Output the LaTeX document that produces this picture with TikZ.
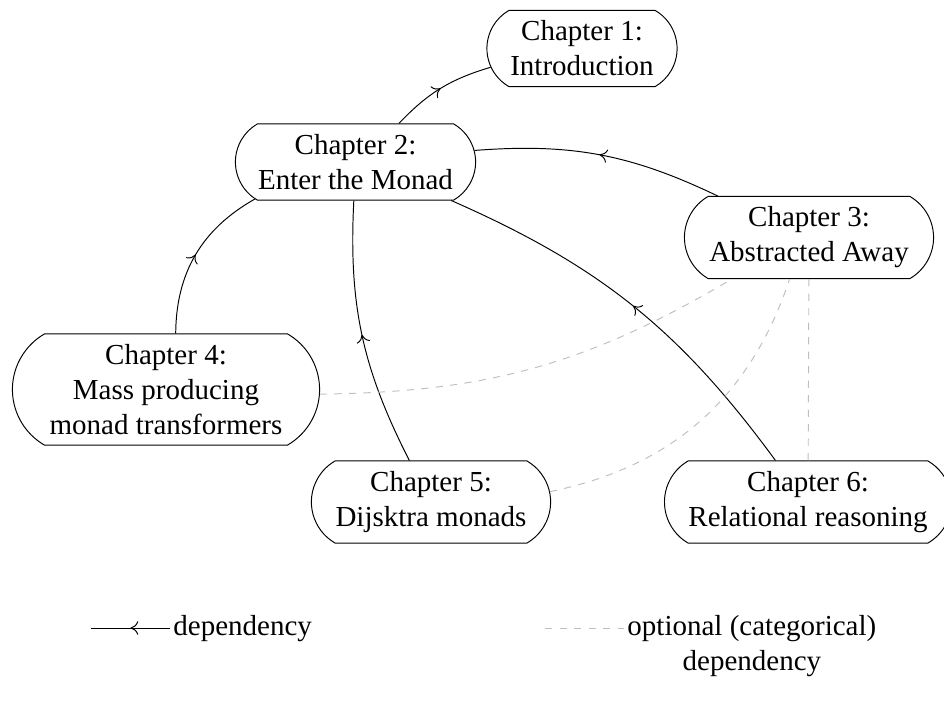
\documentclass[tikz,border=0pt]{standalone}
\usepackage{fontspec}
\setmainfont{Liberation Serif}
\usetikzlibrary{shapes.misc,decorations.markings,calc,arrows.meta}
\begin{document}
\begin{tikzpicture}[x=0.4138pt,y=-0.4138pt,
  font=\fontsize{12}{14.5}\selectfont,
  chap/.style={draw, rounded rectangle, rounded rectangle arc length=120,
    align=center, inner xsep=1pt, inner ysep=4.3pt},
  dep/.style={draw, postaction={decorate},
    decoration={markings, mark=at position 0.5 with {\arrow{To[length=3.2pt,width=5.6pt]}}}},
  opt/.style={draw=black!25, dashed},
  legtext/.style={inner sep=0pt}]
\useasboundingbox (0,0) rectangle (944,704);

\node[chap, minimum width=80.7pt] (ch1) at (582,48.5) {Chapter 1:\\Introduction};
\node[chap, minimum width=101.4pt] (ch2) at (355.5,162) {Chapter 2:\\Enter the Monad};
\node[chap, minimum width=105.1pt] (ch3) at (809,237.5) {Chapter 3:\\Abstracted Away};
\node[chap, minimum width=129.1pt] (ch4) at (166,389.5) {Chapter 4:\\Mass producing\\monad transformers};
\node[chap, minimum width=101pt] (ch5) at (431,502) {Chapter 5:\\Dijsktra monads};
\node[chap, minimum width=120.8pt] (ch6) at (808,502) {Chapter 6:\\Relational reasoning};

\draw[dep] (ch2) to[bend left=15] (ch1);
\draw[dep] (ch3) to[bend right=15] (ch2);
\draw[dep] (ch4) to[bend left=30] (ch2);
\draw[dep] (ch5) to[bend left=15] (ch2);
\draw[dep] (ch6) to[bend right=15] (ch2);

\draw[opt] (ch4) to[bend right=15] (ch3);
\draw[opt] (ch5) to[bend right=30] (ch3);
\draw[opt] (ch6) -- (ch3);

% legend
\coordinate (legA) at (91,628);
\coordinate (legB) at (170,628);
\draw[dep] (legB) -- (legA);
\node[legtext, anchor=base west] (legT) at (173,635) {dependency};

\coordinate (optA) at (545,628);
\coordinate (optB) at (624,628);
\draw[opt] (optA) -- (optB);
\node[legtext, anchor=base west] (optT) at (627,635) {optional (categorical)};
\node[legtext, anchor=base] (optT2) at ($(optT.base)+(0,35)$) {dependency};
\end{tikzpicture}
\end{document}
